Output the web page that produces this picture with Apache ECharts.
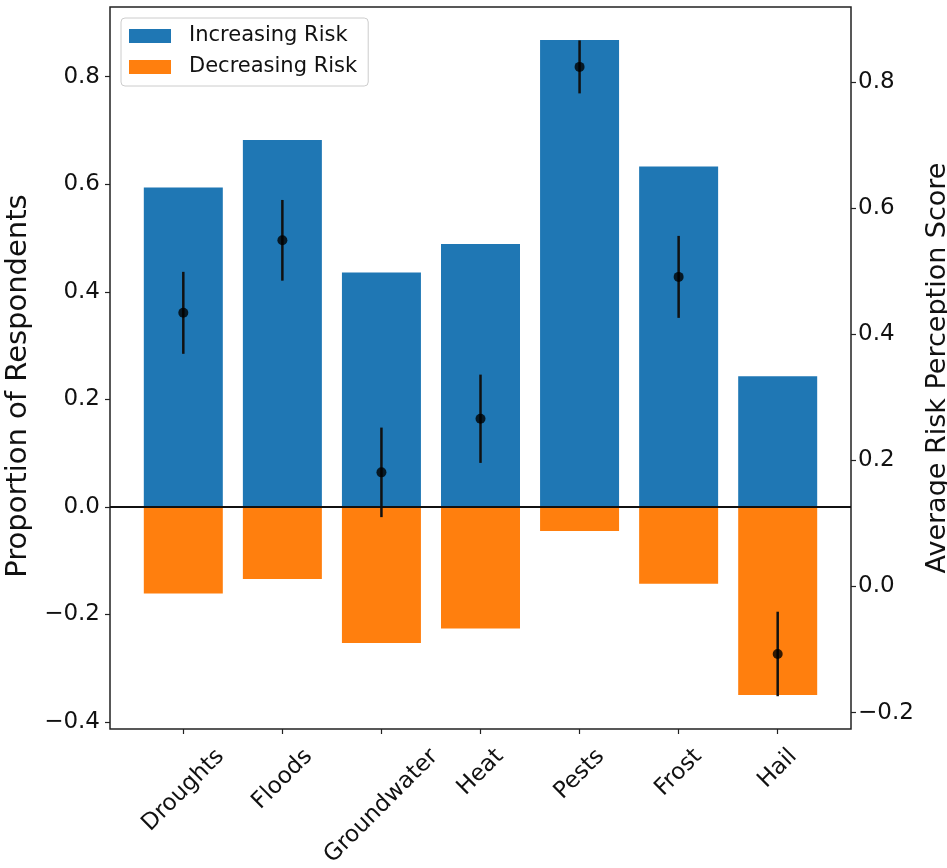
<!DOCTYPE html>
<html>
<head>
<meta charset="utf-8">
<script src="https://cdn.jsdelivr.net/npm/echarts@6/dist/echarts.min.js"></script>
<style>
  html, body { margin: 0; padding: 0; background: #fff; }
  #chart { width: 947px; height: 868px; }
</style>
</head>
<body>
<div id="chart"></div>
<script>
const categories = ['Droughts', 'Floods', 'Groundwater', 'Heat', 'Pests', 'Frost', 'Hail'];
const increasingRisk = [0.594, 0.682, 0.436, 0.489, 0.868, 0.633, 0.243];
const decreasingRisk = [-0.161, -0.134, -0.253, -0.226, -0.045, -0.143, -0.350];
const riskScore = [0.434, 0.549, 0.181, 0.266, 0.824, 0.491, -0.107];
const riskErr = [0.065, 0.064, 0.071, 0.070, 0.042, 0.065, 0.067];
const leftTicks = [-0.4, -0.2, 0, 0.2, 0.4, 0.6, 0.8];
const rightTicks = [-0.2, 0, 0.2, 0.4, 0.6, 0.8];
const catTicks = [0, 1, 2, 3, 4, 5, 6];

const FONT = 'DejaVu Sans';
const fmt = v => v.toFixed(1).replace('-', '\u2212');

// rotated x labels centred under the tick like matplotlib (ha=center, rotation=45)
const ctx = document.createElement('canvas').getContext('2d');
ctx.font = '23px "DejaVu Sans"';
const rich = {};
categories.forEach((c, i) => {
  const w = ctx.measureText(c).width;
  rich['c' + i] = {
    fontSize: 23, fontFamily: FONT, color: '#111',
    padding: [w / 2, w / 2, 0, 0]
  };
});

var myChart = echarts.init(document.getElementById('chart'));
myChart.setOption({
  animation: false,
  textStyle: { fontFamily: FONT },
  grid: {
    left: 110, right: 96, top: 7, bottom: 139,
    show: true, borderColor: '#222', borderWidth: 1.5,
    outerBoundsMode: 'none'
  },
  legend: {
    data: ['Increasing Risk', 'Decreasing Risk'],
    orient: 'vertical',
    left: 121, top: 18,
    icon: 'rect',
    itemWidth: 42, itemHeight: 14, itemGap: 7,
    padding: [6, 11, 7, 8],
    borderColor: '#ccc', borderWidth: 1, borderRadius: 4,
    backgroundColor: 'rgba(255,255,255,0.8)',
    textStyle: { fontSize: 21, lineHeight: 24, color: '#111', fontFamily: FONT, padding: [0, 0, 0, 13] }
  },
  xAxis: {
    type: 'value',
    min: -0.74, max: 6.74,
    splitLine: { show: false },
    axisLine: { show: false, onZero: false },
    axisTick: { show: true, length: 5, customValues: catTicks, lineStyle: { color: '#222', width: 1.2 } },
    axisLabel: {
      customValues: catTicks,
      rotate: 45, align: 'center', verticalAlign: 'middle', margin: 24,
      formatter: v => '{c' + Math.round(v) + '|' + categories[Math.round(v)] + '}',
      rich: rich
    }
  },
  yAxis: [{
    type: 'value',
    min: -0.413, max: 0.9295,
    name: 'Proportion of Respondents',
    nameLocation: 'middle', nameRotate: 90, nameGap: 66,
    nameTextStyle: { fontSize: 29, color: '#111', fontFamily: FONT, padding: [0, 36, 0, 0] },
    splitLine: { show: false },
    axisLine: { show: false, onZero: false },
    axisTick: { show: true, length: 5, customValues: leftTicks, lineStyle: { color: '#222', width: 1.2 } },
    axisLabel: { customValues: leftTicks, formatter: fmt, fontSize: 23, color: '#111', margin: 10 }
  }, {
    type: 'value',
    position: 'right',
    min: -0.226, max: 0.919,
    name: 'Average Risk Perception Score',
    nameLocation: 'middle', nameRotate: 90, nameGap: 68,
    nameTextStyle: { fontSize: 27, color: '#111', fontFamily: FONT },
    splitLine: { show: false },
    axisLine: { show: false, onZero: false },
    axisTick: { show: true, length: 5, customValues: rightTicks, lineStyle: { color: '#222', width: 1.2 } },
    axisLabel: { customValues: rightTicks, formatter: fmt, fontSize: 23, color: '#111', margin: 7 }
  }],
  series: [{
    name: 'Increasing Risk',
    type: 'bar',
    barWidth: 79, barGap: '-100%',
    itemStyle: { color: '#1f77b4' },
    data: increasingRisk.map((v, i) => [i, v])
  }, {
    name: 'Decreasing Risk',
    type: 'bar',
    barWidth: 79, barGap: '-100%',
    itemStyle: { color: '#ff7f0e' },
    data: decreasingRisk.map((v, i) => [i, v]),
    markLine: {
      silent: true, symbol: 'none', label: { show: false },
      lineStyle: { color: '#111', width: 2, type: 'solid' },
      data: [{ yAxis: 0 }]
    }
  }, {
    name: 'error',
    type: 'custom',
    yAxisIndex: 1,
    z: 5,
    data: riskScore.map((v, i) => [i, v - riskErr[i], v + riskErr[i]]),
    renderItem: (params, api) => {
      const lo = api.coord([api.value(0), api.value(1)]);
      const hi = api.coord([api.value(0), api.value(2)]);
      return {
        type: 'line',
        shape: { x1: lo[0], y1: lo[1], x2: hi[0], y2: hi[1] },
        style: { stroke: '#111', lineWidth: 2.5 }
      };
    }
  }, {
    name: 'score',
    type: 'scatter',
    yAxisIndex: 1,
    z: 6,
    symbolSize: 10,
    itemStyle: { color: '#000' },
    data: riskScore.map((v, i) => [i, v])
  }]
});
</script>
</body>
</html>
